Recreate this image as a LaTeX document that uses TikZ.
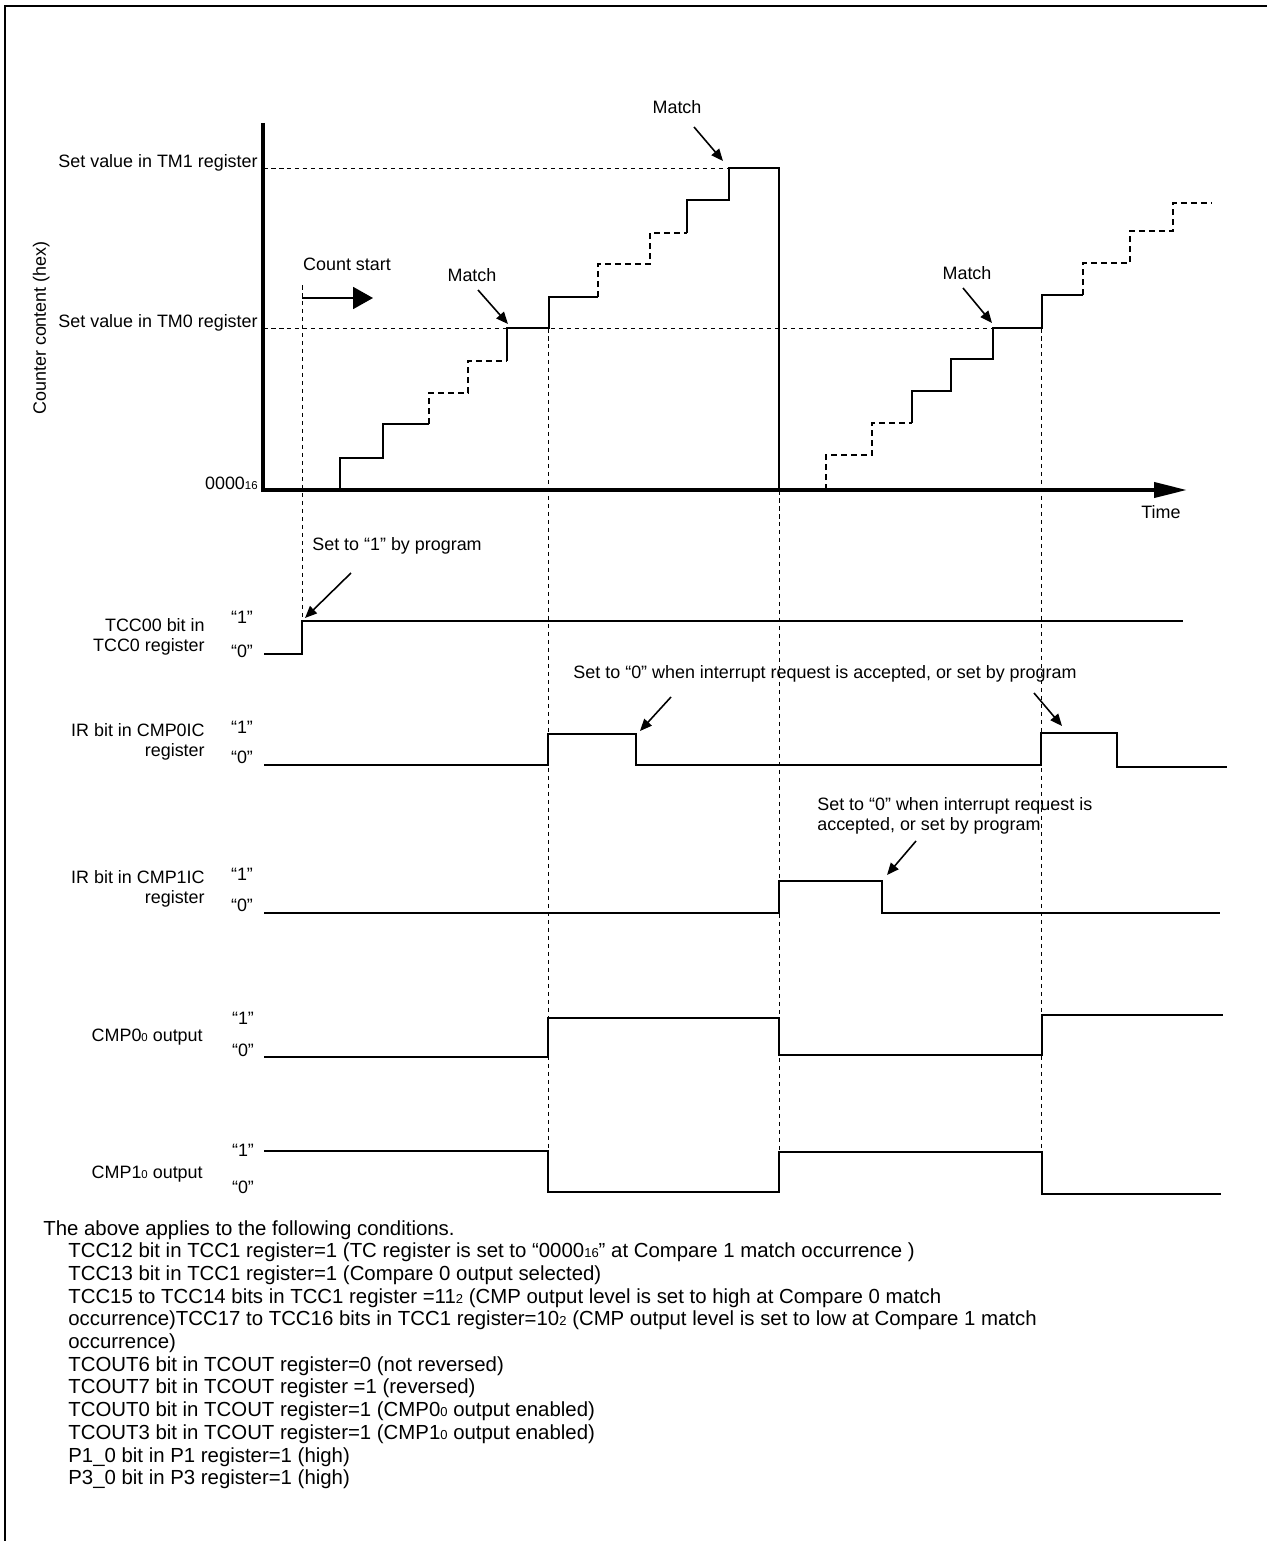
\documentclass[tikz,border=0pt]{standalone}
\usepackage{fontspec}
\setmainfont{Liberation Sans}
\usetikzlibrary{arrows.meta}

\newcommand{\lsub}[1]{{\fontsize{6.5}{7}\selectfont #1}}
\newcommand{\lsubb}[1]{{\fontsize{7.4}{8}\selectfont #1}}

\begin{document}
\begin{tikzpicture}[x=0.02cm,y=-0.02cm,
  lbl/.style={font=\fontsize{10.2}{11.3}\selectfont, inner sep=0pt, text height=1.5ex, text depth=.25ex},
  lbltwo/.style={font=\fontsize{10.2}{11.3}\selectfont, inner sep=0pt, align=right, anchor=east},
  cond/.style={font=\fontsize{11.6}{12.9}\selectfont, inner sep=0pt, anchor=base west},
  sig/.style={line width=1.1pt},
  stair/.style={line width=1.3pt},
  dstair/.style={line width=1.3pt, dash pattern=on 0.12cm off 0.08cm},
  guide/.style={line width=0.5pt, dash pattern=on 0.09cm off 0.07cm},
  tip/.style={line width=0.9pt, -{Triangle[length=0.24cm,width=0.2cm]}}]

\useasboundingbox (0,0) rectangle (1267,1541);
% frame
\draw[line width=1.3pt] (5,1541) -- (5,6) -- (1267,6);

% counter graph
\node[lbl, rotate=90] (ylab) at (40,328) {Counter content (hex)};
\node[lbl, anchor=east] (tmone) at (258,162) {Set value in TM1 register};
\node[lbl, anchor=east] (tmzero) at (258,322) {Set value in TM0 register};
\node[lbl, anchor=east] (zero) at (258,484) {0000\lsub{16}};
\node[lbl] (time) at (1161,513) {Time};
\node[lbl] (cstart) at (347,265) {Count start};
\node[lbl] (matcha) at (472,276) {Match};
\node[lbl] (matchb) at (677,108) {Match};
\node[lbl] (matchc) at (967,274) {Match};

\draw[guide] (263,168) -- (729,168);
\draw[guide] (263,328) -- (993,328);
\draw[guide] (302,285) -- (302,621);
\draw[guide] (548,328) -- (548,1151);
\draw[guide] (779,490) -- (779,1152);
\draw[guide] (1041,328) -- (1041,1152);

\draw[line width=2.3pt, -{Triangle[length=0.66cm,width=0.3cm]}] (263,123) -- (263,490) -- (1187,490);

\coordinate (csa) at (302,298);
\coordinate (csb) at (373,298);
\draw[line width=1.1pt, -{Triangle[length=0.4cm,width=0.44cm]}] (csa) -- (csb);

% first count
\draw[stair] (340,490) |- (383,458) |- (429,424);
\draw[dstair] (429,424) |- (468,393) |- (507,361);
\draw[stair] (507,361) |- (549,328) |- (598,297);
\draw[dstair] (598,297) |- (650,264) |- (687,233);
\draw[stair] (687,233) |- (729,200) |- (779,168) -- (779,490);
% second count
\draw[dstair] (826,490) |- (872,455) |- (912,423);
\draw[stair] (912,423) |- (951,391) |- (993,359) |- (1042,328) |- (1083,295);
\draw[dstair] (1083,295) |- (1130,263) |- (1173,231) |- (1212,203);

\coordinate (maa) at (478,290);  \coordinate (mab) at (508,324);
\coordinate (mba) at (694,127);  \coordinate (mbb) at (723,161);
\coordinate (mca) at (963,288);  \coordinate (mcb) at (992,323);
\draw[tip] (maa) -- (mab);
\draw[tip] (mba) -- (mbb);
\draw[tip] (mca) -- (mcb);

% TCC00
\node[lbltwo] (tccl) at (205,637) {TCC00 bit in\\TCC0 register};
\node[lbl] (tcchi) at (242,618) {“1”};
\node[lbl] (tcclo) at (242,652) {“0”};
\draw[sig] (264,654) -| (302,621) -- (1183,621);
\node[lbl] (setone) at (397,545) {Set to “1” by program};
\coordinate (soa) at (351,573);  \coordinate (sob) at (305,618);
\draw[tip] (soa) -- (sob);

% IR in CMP0IC
\node[lbltwo] (cmpzl) at (205,742) {IR bit in CMP0IC\\register};
\node[lbl] (cmpzhi) at (242,728) {“1”};
\node[lbl] (cmpzlo) at (242,758) {“0”};
\draw[sig] (264,765) -| (548,734) -| (636,765) -| (1041,733) -| (1117,767) -- (1227,767);
\node[lbl] (clrz) at (825,673) {Set to “0” when interrupt request is accepted, or set by program};
\coordinate (cza) at (671,697);  \coordinate (czb) at (640,731);
\coordinate (czc) at (1034,693); \coordinate (czd) at (1062,726);
\draw[tip] (cza) -- (czb);
\draw[tip] (czc) -- (czd);

% IR in CMP1IC
\node[lbltwo] (cmpol) at (205,889) {IR bit in CMP1IC\\register};
\node[lbl] (cmpohi) at (242,875) {“1”};
\node[lbl] (cmpolo) at (242,906) {“0”};
\draw[sig] (264,913) -| (779,881) -| (882,913) -- (1220,913);
\node[font=\fontsize{10.2}{11.3}\selectfont, inner sep=0pt, align=left, anchor=north west] (clro) at (817,797) {Set to “0” when interrupt request is\\accepted, or set by program};
\coordinate (coa) at (916,841);  \coordinate (cob) at (887,875);
\draw[tip] (coa) -- (cob);

% CMP00 output
\node[lbl, anchor=east] (outzl) at (203,1036) {CMP0\lsub{0} output};
\node[lbl] (outzhi) at (243,1019) {“1”};
\node[lbl] (outzlo) at (243,1051) {“0”};
\draw[sig] (264,1057) -| (548,1018) -| (779,1055) -| (1042,1015) -- (1223,1015);

% CMP10 output
\node[lbl, anchor=east] (outol) at (203,1173) {CMP1\lsub{0} output};
\node[lbl] (outohi) at (243,1151) {“1”};
\node[lbl] (outolo) at (243,1188) {“0”};
\draw[sig] (264,1151) -| (548,1192) -| (779,1152) -| (1042,1194) -- (1221,1194);

% conditions
\node[cond] (ca) at (43,1235) {The above applies to the following conditions.};
\node[cond] (cb) at (68,1257.7) {TCC12 bit in TCC1 register=1 (TC register is set to “0000\lsubb{16}” at Compare 1 match occurrence )};
\node[cond] (cc) at (68,1280.4) {TCC13 bit in TCC1 register=1 (Compare 0 output selected)};
\node[cond] (cd) at (68,1303.1) {TCC15 to TCC14 bits in TCC1 register =11\lsubb{2} (CMP output level is set to high at Compare 0 match};
\node[cond] (ce) at (68,1325.8) {occurrence)TCC17 to TCC16 bits in TCC1 register=10\lsubb{2} (CMP output level is set to low at Compare 1 match};
\node[cond] (cf) at (68,1348.5) {occurrence)};
\node[cond] (cg) at (68,1371.2) {TCOUT6 bit in TCOUT register=0 (not reversed)};
\node[cond] (ch) at (68,1393.9) {TCOUT7 bit in TCOUT register =1 (reversed)};
\node[cond] (ci) at (68,1416.6) {TCOUT0 bit in TCOUT register=1 (CMP0\lsubb{0} output enabled)};
\node[cond] (cj) at (68,1439.3) {TCOUT3 bit in TCOUT register=1 (CMP1\lsubb{0} output enabled)};
\node[cond] (ck) at (68,1462) {P1\_0 bit in P1 register=1 (high)};
\node[cond] (cl) at (68,1484.7) {P3\_0 bit in P3 register=1 (high)};
\end{tikzpicture}
\end{document}
